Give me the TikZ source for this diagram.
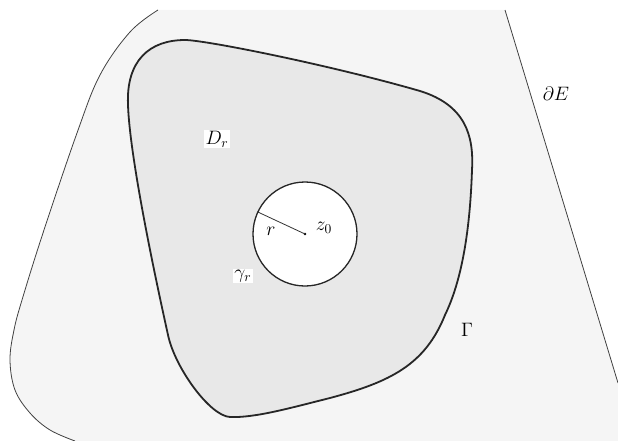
\documentclass[tikz,border=0pt]{standalone}
\usepackage{amsmath}
\begin{document}
\begin{tikzpicture}[x=1pt,y=-1pt,
  regionE/.style={fill=black!4, draw=none},
  edgeE/.style={draw=black!75, line width=0.8pt},
  gammaline/.style={draw=black!85, line width=1.8pt, fill=black!9},
  hole/.style={circle, draw=black!85, line width=1.3pt, fill=white, minimum size=104pt, inner sep=0pt},
  lbl/.style={font=\Large, scale=1.35, inner sep=0.8pt},
  lblw/.style={lbl, fill=white}]
\useasboundingbox (0,0) rectangle (618,441);
% region E
\fill[regionE] plot[smooth, tension=0.6] coordinates {(75,441) (50,430) (30,413) (15,390) (10,360) (14,330) (22,300) (43,233) (77,133) (100,75) (130,32) (158,10)}
  -- (505,10) -- (618,383) -- (618,441) -- cycle;
% boundary of E
\draw[edgeE] plot[smooth, tension=0.6] coordinates {(75,441) (50,430) (30,413) (15,390) (10,360) (14,330) (22,300) (43,233) (77,133) (100,75) (130,32) (158,10)};
\coordinate (e1) at (505,10);
\coordinate (e2) at (618,383);
\draw[edgeE] (e1) -- (e2);
% Gamma
\draw[gammaline] (128,105) .. controls (126,60) and (150,40) .. (185,40)
  .. controls (205,40) and (330,65) .. (420,91)
  .. controls (465,105) and (474,135) .. (472,170)
  .. controls (470,230) and (462,280) .. (445,315)
  .. controls (425,365) and (390,382) .. (330,398)
  .. controls (290,408) and (255,418) .. (230,417)
  .. controls (210,416) and (175,368) .. (168,335)
  .. controls (163,312) and (130,165) .. (128,105) -- cycle;
% hole
\node[hole] (c) at (305,234) {};
\fill (c.center) circle (1.3pt);
\draw[black!80, line width=0.8pt] (c.center) -- (c.155);
% labels
\node[lblw] (Dr) at (217,139) {$D_r$};
\node[lblw] (gr) at (243,276) {$\gamma_r$};
\node[lbl] (r) at (271,231) {$r$};
\node[lbl] (z0) at (324,228) {$z_0$};
\node[lbl] (G) at (467,330) {$\Gamma$};
\node[lbl] (dE) at (556,94) {$\partial E$};
\end{tikzpicture}
\end{document}
